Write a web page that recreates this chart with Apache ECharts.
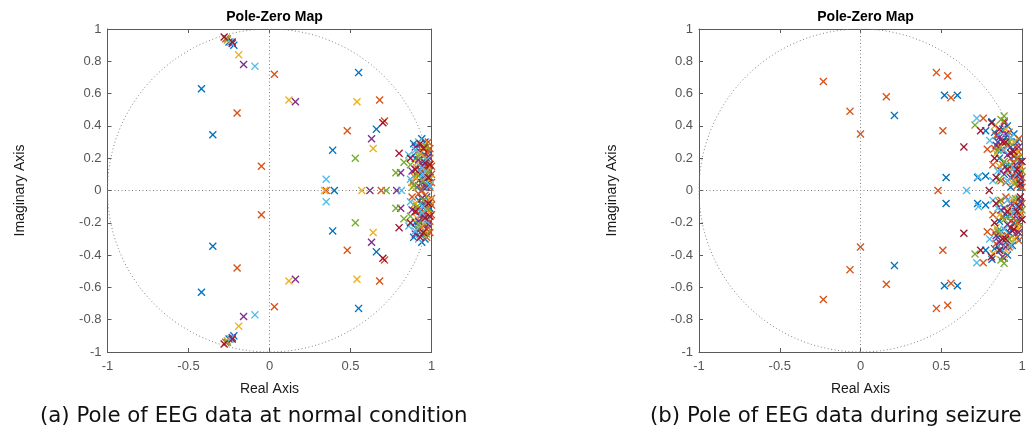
<!DOCTYPE html>
<html>
<head>
<meta charset="utf-8">
<script src="https://cdn.jsdelivr.net/npm/echarts@6/dist/echarts.min.js"></script>
<style>html,body{margin:0;padding:0;background:#fff;}#c{width:1032px;height:445px;}</style>
</head>
<body>
<div id="c"></div>
<script>
// ---------- DATA ----------
const colors = ['#0072BD', '#D95319', '#EDB120', '#7E2F8E', '#77AC30', '#4DBEEE', '#A2142F'];
const xTicks = [-1, -0.5, 0, 0.5, 1];
const yTicks = [-1, -0.8, -0.6, -0.4, -0.2, 0, 0.2, 0.4, 0.6, 0.8, 1];
const titleText = 'Pole-Zero Map';
const captionA = '(a) Pole of EEG data at normal condition';
const captionB = '(b) Pole of EEG data during seizure';

// Panel (a): normal condition, poles [real, imag]
const normalBlue = [[-0.42,0.63],[-0.42,-0.63],[-0.35,0.345],[-0.35,-0.345],[0.55,0.73],[0.55,-0.73],[0.39,0.25],[0.39,-0.25],[0.40,0],[0.66,0.38],[0.66,-0.38],[-0.25,0.92],[-0.25,-0.92],[-0.22,0.9],[-0.22,-0.9],
  [0.94,0.32],[0.94,-0.32],[0.89,0.29],[0.89,-0.29],[0.92,0.27],[0.93,-0.26],[0.96,0.22],[0.95,-0.21],[0.97,0.15],[0.96,-0.14],[0.93,0.1],[0.94,-0.09],[0.98,0.05],[0.97,-0.04],[0.91,0.02],[0.99,0.12],[0.99,-0.11],[0.95,0.18],[0.95,-0.17],[0.9,0.2],[0.9,-0.2],[0.98,0.25],[0.97,-0.24],[0.92,0.06],[0.92,-0.06],
  [0.96,0.3],[0.96,-0.3],[0.91,0.24],[0.91,-0.24],[0.99,0.08],[0.99,-0.07],[0.95,0.02],[0.93,0.13],[0.93,-0.13],[0.97,0.2],[0.97,-0.19]];
const normalOrange = [[-0.2,0.48],[-0.2,-0.48],[-0.05,0.15],[-0.05,-0.15],[0.03,0.72],[0.03,-0.72],[0.68,0.56],[0.68,-0.56],[0.48,0.37],[0.48,-0.37],[0.71,0.43],[0.71,-0.43],[0.35,0],[0.69,0],[-0.27,0.94],[-0.27,-0.94],
  [0.98,0.3],[0.97,-0.29],[0.96,0.26],[0.96,-0.25],[0.99,0.2],[0.99,-0.19],[1.0,0.1],[1.0,-0.09],[0.97,0.08],[0.97,-0.07],[0.95,0.13],[0.95,-0.13],[0.93,0.17],[0.93,-0.16],[0.99,0.02],[0.88,0.05],[0.88,-0.04],[0.91,0.14],[0.91,-0.13],[0.98,0.16],[0.98,-0.15],[0.94,0.0],[0.96,0.04],[0.96,-0.03],
  [0.95,0.22],[0.95,-0.22],[0.92,0.25],[0.92,-0.24],[0.97,0.12],[0.97,-0.11],[1.0,0.15],[1.0,-0.15],[0.89,0.09],[0.89,-0.09],[0.98,0.23],[0.98,-0.23],[0.92,0.03],[0.92,-0.02],
  [1.0,0.05],[1.0,-0.05],[0.99,0.26],[0.99,-0.26]];
const normalYellow = [[-0.19,0.84],[-0.19,-0.84],[0.12,0.56],[0.12,-0.56],[0.54,0.55],[0.54,-0.55],[0.64,0.26],[0.64,-0.26],[0.34,0],[0.57,0],[-0.26,0.93],[-0.26,-0.93],
  [0.93,0.23],[0.93,-0.22],[0.97,0.12],[0.97,-0.12],[0.9,0.08],[0.9,-0.08],[0.99,0.07],[0.99,-0.06],[0.95,0.28],[0.95,-0.27],
  [0.91,0.17],[0.91,-0.17],[0.96,0.2],[0.96,-0.2],[0.88,0.02]];
const normalPurple = [[-0.16,0.78],[-0.16,-0.78],[0.16,0.55],[0.16,-0.55],[0.63,0.32],[0.63,-0.32],[0.62,0],[0.785,0],[0.81,0.11],[0.81,-0.11],[-0.23,0.91],[-0.23,-0.91],
  [0.92,0.19],[0.92,-0.19],[0.96,0.09],[0.96,-0.09],[0.88,0.12],[0.88,-0.12],[0.98,0.21],[0.98,-0.21],[0.94,0.05],[0.94,-0.05],
  [0.9,0.27],[0.9,-0.27],[0.97,0.02],[0.95,0.15],[0.95,-0.15]];
const normalGreen = [[0.53,0.2],[0.53,-0.2],[0.72,0],[0.78,0.11],[0.78,-0.11],[0.83,0.175],[0.83,-0.175],[-0.26,0.94],[-0.26,-0.94],
  [0.87,0.16],[0.87,-0.16],[0.95,0.06],[0.95,-0.06],[0.91,0.1],[0.91,-0.1],[0.98,0.11],[0.98,-0.11],
  [0.92,0.21],[0.92,-0.21],[0.97,0.27],[0.97,-0.27],[0.89,0.03]];
const normalLightBlue = [[-0.09,0.77],[-0.09,-0.77],[0.35,0.07],[0.35,-0.07],[0.815,0],[0.86,0.22],[0.86,-0.22],[-0.24,0.92],[-0.24,-0.92],
  [0.9,0.25],[0.9,-0.25],[0.94,0.14],[0.94,-0.14],[0.97,0.19],[0.97,-0.19],[0.87,0.07],[0.87,-0.07],[0.99,0.03],
  [0.95,0.1],[0.95,-0.1],[0.92,0.3],[0.92,-0.3]];
const normalDarkRed = [[0.8,0.23],[0.8,-0.23],[0.7,0.42],[0.7,-0.42],[-0.23,0.92],[-0.23,-0.92],[-0.28,0.95],[-0.28,-0.95],
  [0.93,0.29],[0.93,-0.29],[0.96,0.17],[0.96,-0.17],[0.9,0.13],[0.9,-0.13],[0.98,0.08],[0.98,-0.08],
  [0.95,0.26],[0.95,-0.26],[0.87,0.2],[0.87,-0.2],[0.99,0.16],[0.99,-0.16]];

// Panel (b): during seizure, poles [real, imag]
const seizureBlue = [[0.21,0.465],[0.21,-0.465],[0.52,0.59],[0.52,-0.59],[0.6,0.59],[0.6,-0.59],[0.53,0.08],[0.53,-0.08],[0.725,0.08],[0.725,-0.08],[0.775,0.09],[0.775,-0.09],[0.775,0.37],[0.775,-0.37],[0.814,0.426],[0.814,-0.426],[0.853,0.344],[0.853,-0.344],
  [0.88,0.38],[0.87,-0.37],[0.9,0.33],[0.9,-0.32],[0.93,0.27],[0.92,-0.26],[0.95,0.21],[0.95,-0.2],[0.97,0.14],[0.96,-0.13],[0.98,0.06],[0.98,-0.05],[0.86,0.2],[0.86,-0.19],[0.89,0.1],[0.89,-0.11],[0.93,0.02],[0.92,0.15],[0.92,-0.15],[0.85,0.3],[0.85,-0.29],[0.99,0.18],[0.99,-0.17],[0.95,0.35],[0.94,-0.34],
  [0.87,0.25],[0.87,-0.25],[0.9,0.15],[0.9,-0.15],[0.94,0.09],[0.94,-0.09],[0.97,0.3],[0.97,-0.29],[0.91,0.4],[0.91,-0.4],[0.83,0.36],[0.83,-0.36],[0.99,0.02]];
const seizureOrange = [[-0.23,0.675],[-0.23,-0.675],[-0.065,0.49],[-0.065,-0.49],[0.0,0.35],[0.0,-0.35],[0.16,0.58],[0.16,-0.58],[0.47,0.73],[0.47,-0.73],[0.54,0.71],[0.54,-0.71],[0.56,0.575],[0.56,-0.575],[0.51,0.37],[0.51,-0.37],[0.48,0],[0.76,0.447],[0.76,-0.447],[0.785,0.255],[0.785,-0.255],
  [0.97,0.2],[0.97,-0.2],[0.99,0.1],[0.99,-0.1],[1.0,0.02],[0.95,0.09],[0.95,-0.08],[0.93,0.2],[0.93,-0.19],[0.91,0.28],[0.91,-0.28],[0.88,0.16],[0.88,-0.16],[0.96,0.27],[0.96,-0.27],[0.82,0.16],[0.82,-0.15],[0.98,0.32],[0.98,-0.31],[0.9,0.05],[0.9,-0.04],[0.84,0.34],[0.84,-0.33],[0.94,0.13],[0.94,-0.13],
  [0.86,0.27],[0.86,-0.27],[0.92,0.36],[0.92,-0.35],[0.97,0.03],[0.87,0.06],[0.87,-0.06],[0.95,0.17],[0.95,-0.17],[0.89,0.43],[0.89,-0.42],[0.83,0.26],[0.83,-0.26],
  [1.0,0.08],[1.0,-0.08],[0.99,0.15],[0.99,-0.15],[0.98,0.24],[0.98,-0.24],[0.96,0.07],[0.96,-0.07]];
const seizureYellow = [[0.83,0.4],[0.82,-0.39],[0.9,0.38],[0.9,-0.37],[0.87,0.27],[0.87,-0.26],[0.94,0.05],[0.94,-0.05],[0.97,0.24],[0.97,-0.23],[0.84,0.23],[0.84,-0.23],[0.99,0.14],[0.99,-0.14],
  [0.92,0.12],[0.92,-0.12],[0.95,0.3],[0.95,-0.3],[0.86,0.15],[0.86,-0.15]];
const seizurePurple = [[0.89,0.42],[0.88,-0.41],[0.86,0.33],[0.86,-0.32],[0.91,0.22],[0.91,-0.21],[0.96,0.16],[0.96,-0.16],[0.93,0.08],[0.93,-0.08],[0.98,0.27],[0.98,-0.26],[0.87,0.12],[0.87,-0.12],
  [0.84,0.28],[0.84,-0.28],[0.94,0.25],[0.94,-0.25],[0.99,0.07],[0.99,-0.07],[0.9,0.35],[0.9,-0.35]];
const seizureGreen = [[0.889,0.461],[0.889,-0.45],[0.87,0.44],[0.87,-0.43],[0.709,0.405],[0.709,-0.393],[0.92,0.3],[0.92,-0.3],[0.96,0.05],[0.96,-0.05],[0.85,0.25],[0.85,-0.25],[1.0,0.12],[1.0,-0.12],[0.89,0.18],[0.89,-0.18],
  [0.93,0.16],[0.93,-0.16],[0.98,0.2],[0.98,-0.2],[0.86,0.07],[0.86,-0.07]];
const seizureLightBlue = [[0.72,0.447],[0.72,-0.447],[0.657,0],[0.73,0.085],[0.73,-0.1],[0.8,0.31],[0.8,-0.3],[0.85,0.12],[0.85,-0.11],[0.93,0.33],[0.93,-0.34],[0.97,0.1],[0.97,-0.1],[0.89,0.25],[0.89,-0.24],[0.82,0.06],[0.82,-0.06],
  [0.87,0.36],[0.87,-0.36],[0.95,0.14],[0.95,-0.14],[0.91,0.06],[0.91,-0.06]];
const seizureDarkRed = [[0.64,0.27],[0.64,-0.265],[0.797,0],[0.744,0.37],[0.744,-0.37],[0.812,0.42],[0.81,-0.41],[0.88,0.3],[0.88,-0.3],[0.91,0.13],[0.91,-0.13],[0.95,0.24],[0.95,-0.24],[0.99,0.04],[0.99,-0.04],[0.84,0.08],[0.84,-0.08],[0.86,0.38],[0.86,-0.37],
  [0.93,0.23],[0.93,-0.23],[0.97,0.13],[0.97,-0.13],[0.9,0.3],[0.9,-0.3],[0.83,0.2],[0.83,-0.2],
  [1.0,0.18],[1.0,-0.18],[0.98,0.1],[0.98,-0.1]];

const normalSets = [normalBlue, normalOrange, normalYellow, normalPurple, normalGreen, normalLightBlue, normalDarkRed];
const seizureSets = [seizureBlue, seizureOrange, seizureYellow, seizurePurple, seizureGreen, seizureLightBlue, seizureDarkRed];

// ---------- CHART ----------
const chart = echarts.init(document.getElementById('c'), null, {renderer: 'canvas'});
const xSym = 'path://M0,1.2L1.2,0L5,3.8L8.8,0L10,1.2L6.2,5L10,8.8L8.8,10L5,6.2L1.2,10L0,8.8L3.8,5Z';
const axisCol = '#5a5a5a';
const labelCol = '#555';
const fontFam = '"Liberation Sans", Arial, Helvetica, sans-serif';

// unit circle (reference curve)
const unitCircle = [];
for (let i = 0; i <= 720; i++) { const t = i / 720 * 2 * Math.PI; unitCircle.push([Math.cos(t), Math.sin(t)]); }

const grids = [
  {left: 107.5, top: 29, width: 324, height: 323},
  {left: 699, top: 29, width: 323, height: 323}
];
const xAxes = [], yAxes = [], series = [];
grids.forEach((g, gi) => {
  xAxes.push({gridIndex: gi, type: 'value', min: -1, max: 1, interval: 0.5, position: 'bottom',
    name: 'Real Axis', nameLocation: 'middle', nameGap: 30,
    nameTextStyle: {color: '#1a1a1a', fontSize: 14, fontFamily: fontFam},
    axisLine: {onZero: false, lineStyle: {color: axisCol, width: 1}},
    axisTick: {inside: true, length: 4, lineStyle: {color: axisCol}},
    axisLabel: {color: labelCol, fontSize: 13, fontFamily: fontFam, margin: 8,
      formatter: v => xTicks.includes(v) ? String(v) : ''},
    splitLine: {show: false}});
  xAxes.push({gridIndex: gi, type: 'value', min: -1, max: 1, interval: 0.5, position: 'top',
    axisLine: {onZero: false, lineStyle: {color: axisCol, width: 1}},
    axisTick: {inside: true, length: 4, lineStyle: {color: axisCol}},
    axisLabel: {show: false}, splitLine: {show: false}});
  yAxes.push({gridIndex: gi, type: 'value', min: -1, max: 1, interval: 0.2, position: 'left',
    name: 'Imaginary Axis', nameLocation: 'middle', nameGap: 80, nameRotate: 90,
    nameTextStyle: {color: '#1a1a1a', fontSize: 14, fontFamily: fontFam},
    axisLine: {onZero: false, lineStyle: {color: axisCol, width: 1}},
    axisTick: {inside: true, length: 4, lineStyle: {color: axisCol}},
    axisLabel: {color: labelCol, fontSize: 13, fontFamily: fontFam, margin: 6,
      formatter: v => { const r = Math.round(v * 10) / 10; return yTicks.includes(r) ? String(r) : ''; }},
    splitLine: {show: false}});
  yAxes.push({gridIndex: gi, type: 'value', min: -1, max: 1, interval: 0.2, position: 'right',
    axisLine: {onZero: false, lineStyle: {color: axisCol, width: 1}},
    axisTick: {inside: true, length: 4, lineStyle: {color: axisCol}},
    axisLabel: {show: false}, splitLine: {show: false}});

  series.push({type: 'line', xAxisIndex: gi * 2, yAxisIndex: gi * 2, data: unitCircle,
    showSymbol: false, silent: true, animation: false, z: 1,
    lineStyle: {color: '#808080', width: 1, type: [1, 2.5]},
    markLine: {silent: true, symbol: 'none', animation: false, label: {show: false},
      lineStyle: {color: '#808080', width: 1, type: [1, 2.5]},
      data: [{xAxis: 0}, {yAxis: 0}]}});
  const sets = gi === 0 ? normalSets : seizureSets;
  sets.forEach((d, ci) => {
    series.push({type: 'scatter', xAxisIndex: gi * 2, yAxisIndex: gi * 2, data: d,
      symbol: xSym, symbolSize: 8, animation: false, z: 3,
      itemStyle: {color: colors[ci], opacity: 1}});
  });
});

chart.setOption({
  animation: false,
  backgroundColor: '#fff',
  title: [
    {text: titleText, left: 269.5, textAlign: 'center', top: 5,
      textStyle: {fontSize: 14, fontWeight: 'bold', color: '#000', fontFamily: fontFam}},
    {text: titleText, left: 860.5, textAlign: 'center', top: 5,
      textStyle: {fontSize: 14, fontWeight: 'bold', color: '#000', fontFamily: fontFam}}
  ],
  graphic: [
    {type: 'text', left: 40, top: 406, style: {text: captionA, font: '21.3px "DejaVu Sans", sans-serif', fill: '#111'}},
    {type: 'text', left: 650, top: 406, style: {text: captionB, font: '21.3px "DejaVu Sans", sans-serif', fill: '#111'}}
  ],
  grid: grids,
  xAxis: xAxes,
  yAxis: yAxes,
  series: series
});
</script>
</body>
</html>
